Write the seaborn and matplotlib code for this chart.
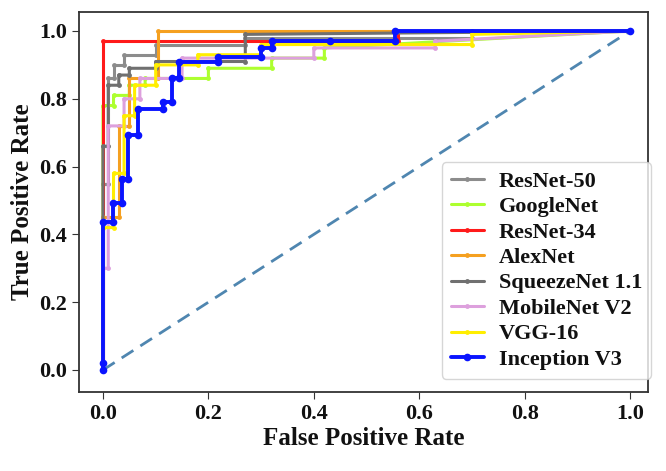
import pandas as pd
import numpy as np
import matplotlib
matplotlib.use("Agg")
import matplotlib.pyplot as plt
import seaborn as sns

# ROC corner points
models = ["ResNet-50", "GoogleNet", "ResNet-34", "AlexNet",
          "SqueezeNet 1.1", "MobileNet V2", "VGG-16", "Inception V3"]
colors = ["#8c8c8c", "#adff2f", "#ff1a1a", "#f5a020",
          "#707070", "#dda0dd", "#ffee00", "#0a14ff"]

resnet50_fpr = [0, 0, 0.01, 0.01, 0.02, 0.02, 0.04, 0.04, 0.10, 0.10, 0.27, 0.27, 0.70, 0.70, 1.0]
resnet50_tpr = [0, 0.55, 0.55, 0.86, 0.86, 0.90, 0.90, 0.93, 0.93, 0.96, 0.96, 0.98, 0.98, 1.0, 1.0]

googlenet_fpr = [0, 0, 0.02, 0.02, 0.05, 0.05, 0.08, 0.08, 0.20, 0.20, 0.32, 0.32, 0.42, 0.42, 1.0]
googlenet_tpr = [0, 0.78, 0.78, 0.81, 0.81, 0.84, 0.84, 0.86, 0.86, 0.89, 0.89, 0.92, 0.92, 0.95, 1.0]

resnet34_fpr = [0, 0, 0.56, 0.56, 1.0]
resnet34_tpr = [0, 0.97, 0.97, 1.0, 1.0]

alexnet_fpr = [0, 0, 0.03, 0.03, 0.05, 0.05, 0.104, 0.104, 1.0]
alexnet_tpr = [0, 0.45, 0.45, 0.72, 0.72, 0.86, 0.86, 1.0, 1.0]

squeeze_fpr = [0, 0, 0.01, 0.01, 0.03, 0.03, 0.05, 0.05, 0.10, 0.10, 0.27, 0.27, 1.0]
squeeze_tpr = [0, 0.66, 0.66, 0.84, 0.84, 0.87, 0.87, 0.89, 0.89, 0.91, 0.91, 0.99, 1.0]

mobilenet_fpr = [0, 0, 0.01, 0.01, 0.04, 0.04, 0.07, 0.07, 0.15, 0.15, 0.40, 0.40, 0.63, 0.63, 1.0]
mobilenet_tpr = [0, 0.30, 0.30, 0.72, 0.72, 0.80, 0.80, 0.86, 0.86, 0.92, 0.92, 0.95, 0.95, 0.97, 1.0]

vgg16_fpr = [0, 0, 0.02, 0.02, 0.04, 0.04, 0.06, 0.06, 0.10, 0.10, 0.18, 0.18, 0.30, 0.30, 0.70, 0.70, 1.0]
vgg16_tpr = [0, 0.42, 0.42, 0.58, 0.58, 0.75, 0.75, 0.84, 0.84, 0.90, 0.90, 0.93, 0.93, 0.96, 0.96, 0.99, 1.0]

inception_fpr = [0, 0, 0, 0.019, 0.019, 0.036, 0.036, 0.047, 0.047, 0.066, 0.066, 0.114, 0.114,
                 0.131, 0.131, 0.144, 0.144, 0.218, 0.218, 0.30, 0.30, 0.32, 0.32, 0.43, 0.554, 0.554, 1.0]
inception_tpr = [0, 0.02, 0.437, 0.437, 0.493, 0.493, 0.563, 0.563, 0.693, 0.693, 0.77, 0.77, 0.79,
                 0.79, 0.86, 0.86, 0.91, 0.91, 0.923, 0.923, 0.95, 0.95, 0.97, 0.97, 0.97, 1.0, 1.0]

fprs = [resnet50_fpr, googlenet_fpr, resnet34_fpr, alexnet_fpr,
        squeeze_fpr, mobilenet_fpr, vgg16_fpr, inception_fpr]
tprs = [resnet50_tpr, googlenet_tpr, resnet34_tpr, alexnet_tpr,
        squeeze_tpr, mobilenet_tpr, vgg16_tpr, inception_tpr]

rows = []
for m, f, t in zip(models, fprs, tprs):
    for i, (a, b) in enumerate(zip(f, t)):
        rows.append({"model": m, "fpr": a, "tpr": b, "step": i})
df = pd.DataFrame(rows)

sns.set_style("ticks")
plt.rcParams["font.family"] = ["Liberation Serif", "DejaVu Serif"]
plt.rcParams["font.weight"] = "bold"

fig = plt.figure(figsize=(6.66, 4.71), dpi=100)
ax = fig.add_axes([0.1186, 0.1677, 0.8544, 0.8068])

ax.plot([0, 1], [0, 1], linestyle="--", color="#4f86b0", lw=2, dashes=(5, 3), zorder=1)

for m, c in zip(models, colors):
    sub = df[df["model"] == m]
    lw = 2.8 if m == "Inception V3" else 2.2
    ms = 5.5 if m == "Inception V3" else 3.5
    sns.lineplot(data=sub, x="fpr", y="tpr", ax=ax, color=c, label=m,
                 estimator=None, sort=False, marker="o", markersize=ms,
                 markeredgewidth=0, lw=lw)

ax.set_xlim(-0.0455, 1.034)
ax.set_ylim(-0.065, 1.056)
ax.set_xticks([0.0, 0.2, 0.4, 0.6, 0.8, 1.0])
ax.set_yticks([0.0, 0.2, 0.4, 0.6, 0.8, 1.0])
ax.tick_params(labelsize=16, length=5, color="#333333", labelcolor="#111111")
for lab in ax.get_xticklabels() + ax.get_yticklabels():
    lab.set_fontweight("bold")
for s in ax.spines.values():
    s.set_color("#333333")
    s.set_linewidth(1.3)

ax.set_xlabel("False Positive Rate", fontsize=18, fontweight="bold", labelpad=2, color="#111111")
ax.set_ylabel("True Positive Rate", fontsize=18, fontweight="bold", labelpad=4, color="#111111")

leg = ax.legend(loc="lower right", bbox_to_anchor=(1.005, 0.035),
                labelspacing=0.22, handlelength=1.5, handletextpad=0.65,
                borderaxespad=0.0, borderpad=0.4, frameon=True,
                prop={"weight": "bold", "size": 16})
for t in leg.get_texts():
    t.set_color("#111111")

fig.savefig("out.png", dpi=100)
